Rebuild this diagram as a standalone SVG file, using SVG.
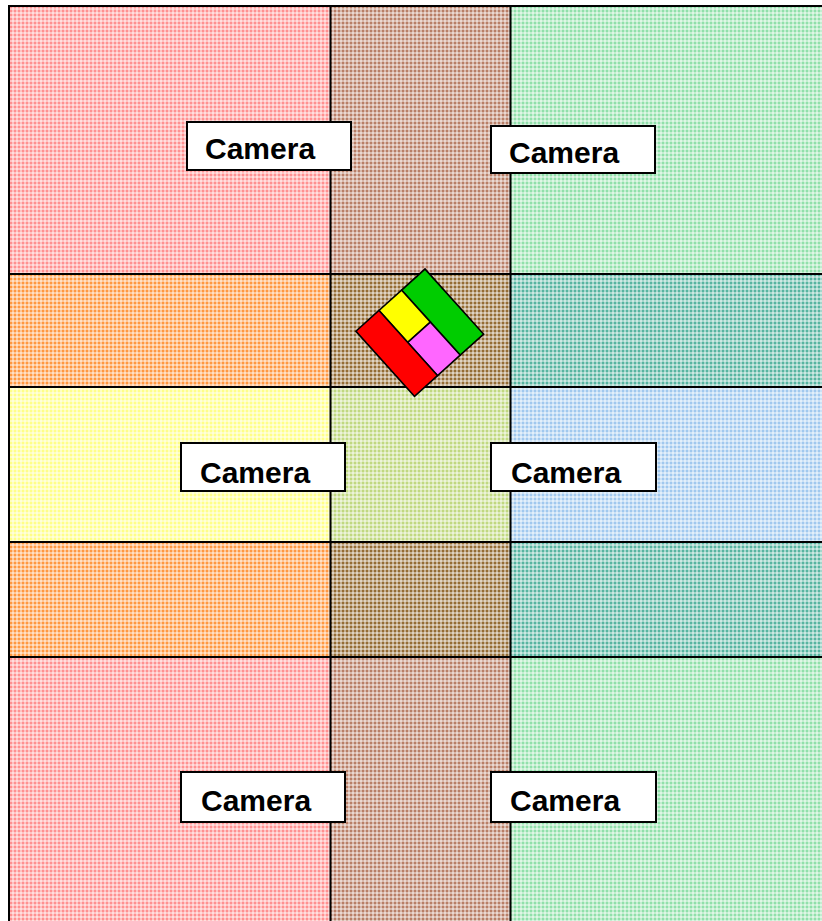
<svg xmlns="http://www.w3.org/2000/svg" xmlns:xlink="http://www.w3.org/1999/xlink" width="822" height="921" viewBox="0 0 822 921">
<style>
.cam rect{fill:#fff;stroke:#000;stroke-width:2}
.cam text{font-family:"Liberation Sans",Arial,sans-serif;font-weight:bold;font-size:30px;fill:#000}
.grid line{stroke:#000;stroke-width:2}
.bot path{stroke:#000;stroke-width:1.6;stroke-linejoin:miter}
</style>
<defs>
<g id="st"><rect width="4" height="2" fill="#fff" fill-opacity="0.45"/><rect width="2" height="4" fill="#fff" fill-opacity="0.45"/></g>
<pattern id="pPink" width="4" height="4" patternUnits="userSpaceOnUse"><rect width="4" height="4" fill="#ff9090"/><use xlink:href="#st"/></pattern>
<pattern id="pBrown" width="4" height="4" patternUnits="userSpaceOnUse"><rect width="4" height="4" fill="#b87e66"/><use xlink:href="#st"/></pattern>
<pattern id="pGreen" width="4" height="4" patternUnits="userSpaceOnUse"><rect width="4" height="4" fill="#90e0aa"/><use xlink:href="#st"/></pattern>
<pattern id="pOrange" width="4" height="4" patternUnits="userSpaceOnUse"><rect width="4" height="4" fill="#ff9840"/><use xlink:href="#st"/></pattern>
<pattern id="pDark" width="4" height="4" patternUnits="userSpaceOnUse"><rect width="4" height="4" fill="#946c34"/><use xlink:href="#st"/></pattern>
<pattern id="pTeal" width="4" height="4" patternUnits="userSpaceOnUse"><rect width="4" height="4" fill="#56b4a0"/><use xlink:href="#st"/></pattern>
<pattern id="pYellow" width="4" height="4" patternUnits="userSpaceOnUse"><rect width="4" height="4" fill="#ffff88"/><use xlink:href="#st"/></pattern>
<pattern id="pYG" width="4" height="4" patternUnits="userSpaceOnUse"><rect width="4" height="4" fill="#c0d880"/><use xlink:href="#st"/></pattern>
<pattern id="pBlue" width="4" height="4" patternUnits="userSpaceOnUse"><rect width="4" height="4" fill="#a0c8ee"/><use xlink:href="#st"/></pattern>
</defs>
<rect width="822" height="921" fill="#fff"/>
<g id="cells">
<rect x="9" y="6" width="321" height="268" fill="url(#pPink)"/>
<rect x="330" y="6" width="180" height="268" fill="url(#pBrown)"/>
<rect x="510" y="6" width="312" height="268" fill="url(#pGreen)"/>
<rect x="9" y="274" width="321" height="113" fill="url(#pOrange)"/>
<rect x="330" y="274" width="180" height="113" fill="url(#pDark)"/>
<rect x="510" y="274" width="312" height="113" fill="url(#pTeal)"/>
<rect x="9" y="387" width="321" height="155" fill="url(#pYellow)"/>
<rect x="330" y="387" width="180" height="155" fill="url(#pYG)"/>
<rect x="510" y="387" width="312" height="155" fill="url(#pBlue)"/>
<rect x="9" y="542" width="321" height="115" fill="url(#pOrange)"/>
<rect x="330" y="542" width="180" height="115" fill="url(#pDark)"/>
<rect x="510" y="542" width="312" height="115" fill="url(#pTeal)"/>
<rect x="9" y="657" width="321" height="264" fill="url(#pPink)"/>
<rect x="330" y="657" width="180" height="264" fill="url(#pBrown)"/>
<rect x="510" y="657" width="312" height="264" fill="url(#pGreen)"/>
</g>
<g id="connectors" class="grid">
<line x1="9" y1="5" x2="9" y2="921"/>
<line x1="8" y1="6" x2="822" y2="6"/>
<line x1="330.5" y1="6" x2="330.5" y2="921"/>
<line x1="510.5" y1="6" x2="510.5" y2="921"/>
<line x1="9" y1="274" x2="822" y2="274"/>
<line x1="9" y1="387" x2="822" y2="387"/>
<line x1="9" y1="542" x2="822" y2="542"/>
<line x1="9" y1="657" x2="822" y2="657"/>
</g>
<g id="robot" class="bot" transform="translate(425,269) rotate(48)">
<path d="M0 0H87.6V31.5H0Z" fill="#00cc00"/>
<path d="M0 31.5H43V62H0Z" fill="#ffff00"/>
<path d="M43 31.5H87.6V62H43Z" fill="#ff66ff"/>
<path d="M0 62H87.6V93H0Z" fill="#ff0000"/>
</g>
<g id="camera1" class="cam"><rect x="187" y="122" width="164" height="48"/><text x="205" y="159">Camera</text></g>
<g id="camera2" class="cam"><rect x="491" y="126" width="164" height="47"/><text x="509" y="163">Camera</text></g>
<g id="camera3" class="cam"><rect x="181" y="443" width="164" height="48"/><text x="200" y="483">Camera</text></g>
<g id="camera4" class="cam"><rect x="491" y="443" width="165" height="48"/><text x="511" y="483">Camera</text></g>
<g id="camera5" class="cam"><rect x="181" y="772" width="164" height="50"/><text x="201" y="811">Camera</text></g>
<g id="camera6" class="cam"><rect x="491" y="772" width="165" height="50"/><text x="510" y="811">Camera</text></g>
</svg>
